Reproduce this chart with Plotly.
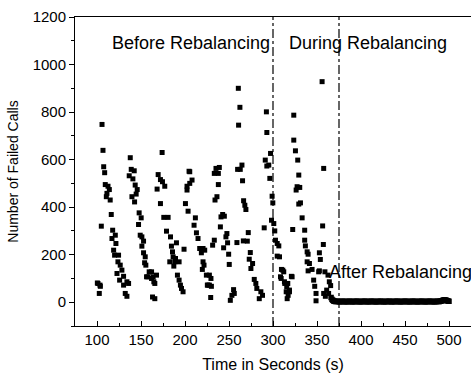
import plotly.graph_objects as go

# Failed calls per second before and during rebalancing (t in seconds)
burst_time = [
    100.4, 101.1, 102.6, 103.4, 103.8, 104.9, 105.7, 106.8, 107.6, 108.7,
    109.4, 110.6, 111.3, 112.5, 114.0, 115.0, 116.2, 117.0, 117.8, 118.9,
    120.0, 120.8, 121.5, 122.7, 123.8, 124.5, 125.7, 126.4, 128.3, 130.2,
    130.2, 132.1, 134.0, 134.0, 135.9,
    136.6, 137.8, 138.9, 139.7, 140.8, 142.3, 142.7, 143.4, 144.5, 145.7,
    147.2, 147.9, 149.1, 150.2, 151.0, 151.0, 152.9, 152.9, 154.1, 154.8,
    155.5, 156.3, 157.8, 159.3, 162.0, 162.0, 163.1, 163.8, 164.6, 165.7,
    165.7, 167.6,
    168.3, 169.5, 172.1, 172.1, 174.0, 174.4, 175.9, 177.0, 179.0, 180.8,
    182.7, 183.5, 184.6, 185.8, 186.5, 187.3, 188.4, 189.2, 190.3, 191.4,
    193.3, 193.3, 194.8, 196.0, 197.8, 198.9,
    200.5, 202.3, 202.3, 203.5, 204.6, 205.4, 205.4, 208.0, 210.3, 211.8,
    213.0, 214.8, 216.7, 218.6, 219.7, 220.5, 220.5, 221.6, 222.4, 224.3,
    225.4, 226.1, 227.7, 227.7, 229.2, 229.5, 230.0,
    231.4, 233.3, 233.3, 234.1, 235.2, 236.3, 237.9, 237.9, 239.0, 240.2,
    240.9, 242.8, 243.9, 244.7, 246.5, 247.6, 248.4, 249.6, 250.3, 251.5,
    253.3, 255.2, 256.0, 259.0,
    259.8, 260.6, 260.9, 262.4, 262.8, 264.7, 265.4, 266.3, 266.6, 268.0,
    269.2, 270.8, 271.9, 273.0, 274.2, 274.9, 276.8, 278.7, 280.5, 281.6,
    284.4, 286.2, 288.1, 290.0,
    291.2, 292.5, 293.0, 293.0, 295.2, 296.4, 297.2, 298.3, 299.0, 299.8,
    300.9, 302.0, 302.8, 304.8, 304.8, 306.6, 307.4, 308.5, 309.3, 309.6,
    311.1, 312.2, 313.0, 313.4, 315.0, 315.6, 316.1, 316.8, 317.2, 318.7,
    318.7, 320.9, 321.7,
    322.4, 323.6, 323.6, 325.5, 326.3, 327.4, 328.1, 329.3, 329.3, 330.4,
    331.2, 333.1, 336.0, 336.0, 336.8, 338.8, 338.8, 339.9, 339.9, 341.4,
    344.4, 346.2, 347.4, 348.9, 348.9, 351.9, 352.7, 352.7, 353.8, 355.8,
    356.4, 357.2, 357.6, 357.6, 359.0, 359.5, 361.0, 362.5, 363.2, 364.0,
    365.5,
]
burst_calls = [
    81, 79, 37, 72, 67, 320, 748, 639, 570, 545,
    495, 444, 458, 488, 474, 430, 369, 268, 303, 219,
    198, 282, 247, 121, 170, 198, 93, 156, 135, 109,
    72, 37, 86, 25, 79,
    532, 608, 559, 444, 519, 553, 422, 493, 455, 474,
    327, 376, 282, 355, 275, 236, 257, 208, 166, 191,
    156, 107, 107, 128, 128, 100, 22, 107, 86, 15,
    79, 114,
    476, 537, 516, 415, 630, 507, 357, 488, 299, 357,
    170, 275, 236, 212, 191, 152, 170, 184, 250, 114,
    170, 93, 72, 58, 44, 223,
    415, 488, 472, 383, 551, 549, 500, 514, 324, 355,
    292, 268, 226, 208, 138, 226, 170, 156, 219, 114,
    72, 72, 114, 72, 20, 100, 67,
    240, 261, 542, 430, 563, 444, 542, 495, 567, 317,
    359, 369, 229, 362, 275, 289, 250, 202, 159, 8,
    29, 53, 37, 251,
    559, 900, 745, 820, 559, 577, 511, 258, 427, 408,
    390, 257, 293, 181, 209, 142, 163, 96, 79, 58,
    15, 44, 29, 313,
    598, 801, 714, 573, 577, 521, 626, 345, 446, 418,
    331, 300, 261, 247, 194, 237, 191, 107, 100, 138,
    135, 128, 86, 79, 44, 65, 15, 79, 29, 44,
    51, 109, 107,
    306, 787, 682, 637, 472, 486, 598, 535, 413, 483,
    418, 355, 303, 261, 237, 212, 170, 202, 132, 163,
    138, 93, 67, 37, 6, 128, 208, 132, 180, 928,
    321, 243, 563, 37, 128, 25, 51, 114, 37, 86,
    70,
]

# Failed calls per second once rebalancing has finished (t = 366 ... 500)
after_start, after_end = 366, 500
after_calls = [
    20, 12, 8, 5, 4, 3, 3, 4, 3, 3, 2, 3, 3, 4, 3,
    3, 3, 2, 3, 3, 3, 4, 3, 3, 2, 3, 3, 3, 3, 4,
    3, 3, 3, 2, 3, 3, 3, 3, 4, 3, 3, 3, 2, 3, 3,
    3, 4, 3, 3, 3, 3, 2, 3, 3, 3, 3, 4, 3, 3, 3,
    2, 3, 3, 3, 3, 3, 4, 3, 3, 2, 3, 3, 3, 3, 3,
    4, 3, 3, 3, 2, 3, 3, 3, 3, 4, 3, 3, 3, 3, 2,
    3, 3, 3, 4, 3, 3, 3, 3, 2, 3, 3, 3, 3, 4, 3,
    3, 3, 2, 3, 3, 3, 3, 4, 3, 3, 3, 3, 2, 3, 3,
    3, 4, 3, 3, 4, 5, 6, 8, 9, 10, 9, 8, 6, 5, 4,
]
after_time = list(range(after_start, after_end + 1))

phase_bounds = [300, 375]
phase_labels = [
    ("Before Rebalancing", 207, 1090),
    ("During Rebalancing", 408, 1090),
    ("After Rebalancing", 445, 128),
]

x_ticks = [100, 150, 200, 250, 300, 350, 400, 450, 500]
y_ticks = [0, 200, 400, 600, 800, 1000, 1200]

FONT = "Liberation Sans, Arial, sans-serif"
marker = dict(symbol="square", size=5, color="black", line=dict(width=0))

fig = go.Figure()
fig.add_trace(go.Scatter(x=burst_time, y=burst_calls, mode="markers",
                         marker=marker, showlegend=False))
fig.add_trace(go.Scatter(x=after_time, y=after_calls, mode="markers",
                         marker=dict(symbol="square", size=5.5, color="black",
                                     line=dict(width=0)),
                         showlegend=False))

for xb in phase_bounds:
    fig.add_shape(type="line", x0=xb, x1=xb, xref="x", y0=0, y1=1, yref="paper",
                  line=dict(color="black", width=1.2, dash="dashdot"))

for text, xa, ya in phase_labels:
    fig.add_annotation(x=xa, y=ya, xref="x", yref="y", text=text, showarrow=False,
                       font=dict(family=FONT, size=18, color="black"),
                       xanchor="center", yanchor="middle")

fig.update_layout(
    width=471, height=374,
    margin=dict(l=75, r=0, t=17, b=48),
    paper_bgcolor="white", plot_bgcolor="white",
    font=dict(family=FONT, color="black"),
)
fig.update_xaxes(
    range=[75, 525], tickvals=x_ticks, ticks="inside", ticklen=5, tickwidth=1,
    tickcolor="black", showline=True, linecolor="black", linewidth=1, mirror=True,
    showgrid=False, zeroline=False, tickfont=dict(size=15),
    minor=dict(dtick=25, tick0=75, ticks="inside", ticklen=3, tickcolor="black"),
    title=dict(text="Time in Seconds (s)", font=dict(size=16), standoff=11),
)
fig.update_yaxes(
    range=[-100, 1200], tickvals=y_ticks, ticks="outside", ticklen=5, tickwidth=1,
    tickcolor="black", showline=True, linecolor="black", linewidth=1,
    showgrid=False, zeroline=False, tickfont=dict(size=15),
    minor=dict(dtick=100, tick0=-100, ticks="outside", ticklen=3, tickcolor="black"),
    title=dict(text="Number of Failed Calls", font=dict(size=14), standoff=10),
)

fig.write_html("out.html")
